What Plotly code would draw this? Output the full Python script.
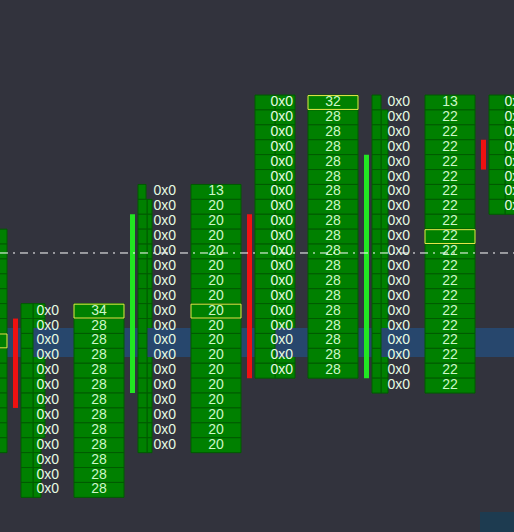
import plotly.graph_objects as go

# ---------------- data ----------------
bar_index = [0, 1, 2, 3, 4, 5]
top_price = [91, 86, 94, 100, 100, 100]
volumes = [
    [28, 28, 28, 28, 28, 28, 28, 34, 28, 28, 28, 28, 28, 28, 28],
    [34, 28, 28, 28, 28, 28, 28, 28, 28, 28, 28, 28, 28],
    [13, 20, 20, 20, 20, 20, 20, 20, 20, 20, 20, 20, 20, 20, 20, 20, 20, 20],
    [32, 28, 28, 28, 28, 28, 28, 28, 28, 28, 28, 28, 28, 28, 28, 28, 28, 28, 28],
    [13, 22, 22, 22, 22, 22, 22, 22, 22, 22, 22, 22, 22, 22, 22, 22, 22, 22, 22, 22],
    [20, 20, 20, 20, 20, 20, 20, 20],
]
poc_price = [84, 86, 86, 100, 91, 100]
bid_vol = [
    [0, 0, 0, 0, 0, 0, 0, 0, 0, 0, 0, 0, 0, 0, 0],
    [0, 0, 0, 0, 0, 0, 0, 0, 0, 0, 0, 0, 0],
    [0, 0, 0, 0, 0, 0, 0, 0, 0, 0, 0, 0, 0, 0, 0, 0, 0, 0],
    [0, 0, 0, 0, 0, 0, 0, 0, 0, 0, 0, 0, 0, 0, 0, 0, 0, 0, 0],
    [0, 0, 0, 0, 0, 0, 0, 0, 0, 0, 0, 0, 0, 0, 0, 0, 0, 0, 0, 0],
    [0, 0, 0, 0, 0, 0, 0, 0],
]
ask_vol = bid_vol
# bid / ask histogram lengths (relative units)
bid_hist = [
    [12, 12, 12, 12, 12, 12, 12, 12, 12, 12, 12, 12, 12, 12, 12],
    [12, 12, 12, 12, 12, 12, 12, 12, 12, 12, 12, 12, 12],
    [8, 9, 9, 9, 9, 9, 9, 9, 9, 9, 9, 9, 9, 9, 9, 9, 9, 9],
    [20, 20, 20, 20, 20, 20, 20, 20, 20, 20, 20, 20, 20, 20, 20, 20, 20, 20, 20],
    [9, 9, 9, 9, 9, 9, 9, 9, 9, 9, 9, 9, 9, 9, 9, 9, 9, 9, 9, 9],
    [16, 16, 16, 16, 16, 16, 16, 16],
]
ask_hist = [
    [12, 12, 12, 12, 12, 12, 12, 12, 12, 12, 12, 12, 12, 12, 12],
    [12, 12, 12, 12, 12, 12, 12, 12, 12, 8, 8, 8, 8],
    [0, 5, 5, 5, 5, 5, 5, 5, 5, 5, 5, 5, 5, 5, 5, 5, 5, 5],
    [20, 20, 20, 20, 20, 20, 20, 20, 20, 20, 20, 20, 20, 20, 20, 20, 20, 20, 20],
    [0, 7, 7, 7, 7, 7, 7, 7, 7, 7, 7, 7, 7, 7, 7, 7, 7, 7, 7, 7],
    [30, 30, 30, 30, 30, 30, 30, 30],
]
candle_open = [84.5, 85.5, 80.5, 92.5, 81.5, 97.5]
candle_close = [79.5, 79.5, 92.5, 81.5, 96.5, 95.5]
last_price = 89.9
band_low, band_high = 82.92, 84.86

# ---------------- style ----------------
BG = "#32333d"
CELL = "#008000"
CELL_LINE = "#005a00"
POC_LINE = "#e8e84a"
TXT_VOL = "#cdf7c8"
TXT_BA = "#e6fbe2"
BAND = "#27476d"
UP = "#22e622"
DOWN = "#ee1111"
SLOT = 117.0  # px per bar slot
FONT = "Liberation Sans, Arial, sans-serif"

X0, X1 = 104 / SLOT, 618 / SLOT
Y_TOP, Y_BOT = 100 + 102.5 / 14.9, 100 - 429.5 / 14.9

def px(v):
    return v / SLOT

def levels(i):
    return [top_price[i] - k for k in range(len(volumes[i]))]

fig = go.Figure()

# ask histogram (below band)
ys, xs, bs = [], [], []
for i, g in enumerate(bar_index):
    for k, p in enumerate(levels(i)):
        if ask_hist[i][k] > 0:
            ys.append(p); xs.append(px(ask_hist[i][k])); bs.append(g + px(8 + bid_hist[i][k]))
fig.add_trace(go.Bar(orientation="h", y=ys, x=xs, base=bs, width=1,
                     marker=dict(color=CELL, line=dict(color=CELL_LINE, width=1))))

# band
fig.add_trace(go.Bar(orientation="h", y=[(band_low + band_high) / 2], x=[X1 - X0 + 1],
                     base=[X0 - 0.5], width=[band_high - band_low],
                     marker=dict(color=BAND, line=dict(width=0))))

# bid histogram
ys, xs, bs = [], [], []
for i, g in enumerate(bar_index):
    for k, p in enumerate(levels(i)):
        ys.append(p); xs.append(px(bid_hist[i][k])); bs.append(g + px(8))
fig.add_trace(go.Bar(orientation="h", y=ys, x=xs, base=bs, width=1,
                     marker=dict(color=CELL, line=dict(color=CELL_LINE, width=1))))

# volume cells
ys, xs, bs = [], [], []
for i, g in enumerate(bar_index):
    for k, p in enumerate(levels(i)):
        ys.append(p); xs.append(px(50)); bs.append(g + px(61))
fig.add_trace(go.Bar(orientation="h", y=ys, x=xs, base=bs, width=1,
                     marker=dict(color=CELL, line=dict(color=CELL_LINE, width=1))))

# POC boxes
fig.add_trace(go.Bar(orientation="h", y=poc_price, x=[px(50)] * len(bar_index),
                     base=[g + px(61) for g in bar_index], width=0.93,
                     marker=dict(color=CELL, line=dict(color=POC_LINE, width=1))))

# candles
fig.add_trace(go.Bar(orientation="v", x=[g + px(2.5) for g in bar_index],
                     y=[abs(c - o) for o, c in zip(candle_open, candle_close)],
                     base=[min(o, c) for o, c in zip(candle_open, candle_close)],
                     width=px(5),
                     marker=dict(color=[UP if c > o else DOWN for o, c in zip(candle_open, candle_close)],
                                 line=dict(width=0))))

# bid x ask text (only columns that reach into the view)
tx, ty, tt = [], [], []
for i, g in enumerate(bar_index):
    xe = g + px(46)
    if xe <= X0:
        continue
    for k, p in enumerate(levels(i)):
        tx.append(xe); ty.append(p); tt.append(f"{bid_vol[i][k]}x{ask_vol[i][k]}")
fig.add_trace(go.Scatter(x=tx, y=ty, text=tt, mode="text", textposition="middle left",
                         textfont=dict(family=FONT, size=14, color=TXT_BA)))

# volume text
tx, ty, tt = [], [], []
for i, g in enumerate(bar_index):
    xc = g + px(86)
    if xc - px(10) <= X0 or xc + px(10) >= X1:
        continue
    for k, p in enumerate(levels(i)):
        tx.append(xc); ty.append(p); tt.append(str(volumes[i][k]))
fig.add_trace(go.Scatter(x=tx, y=ty, text=tt, mode="text", textposition="middle center",
                         textfont=dict(family=FONT, size=14, color=TXT_VOL)))

fig.add_shape(type="line", xref="paper", x0=0, x1=1, yref="y", y0=last_price, y1=last_price,
              line=dict(color="white", width=1, dash="8px,5px,2px,5px"), layer="above")
fig.add_shape(type="rect", xref="paper", yref="paper", x0=480 / 514, x1=1, y0=0, y1=20 / 532,
              fillcolor="#1d3b50", line=dict(width=0), layer="above")

fig.update_layout(
    width=514, height=532, margin=dict(l=0, r=0, t=0, b=0),
    paper_bgcolor=BG, plot_bgcolor=BG, showlegend=False, barmode="overlay",
    xaxis=dict(range=[X0, X1], visible=False, fixedrange=True),
    yaxis=dict(range=[Y_BOT, Y_TOP], visible=False, fixedrange=True),
)
fig.write_html("out.html", config={"displayModeBar": False},
               post_script="document.body.style.margin='0';")
